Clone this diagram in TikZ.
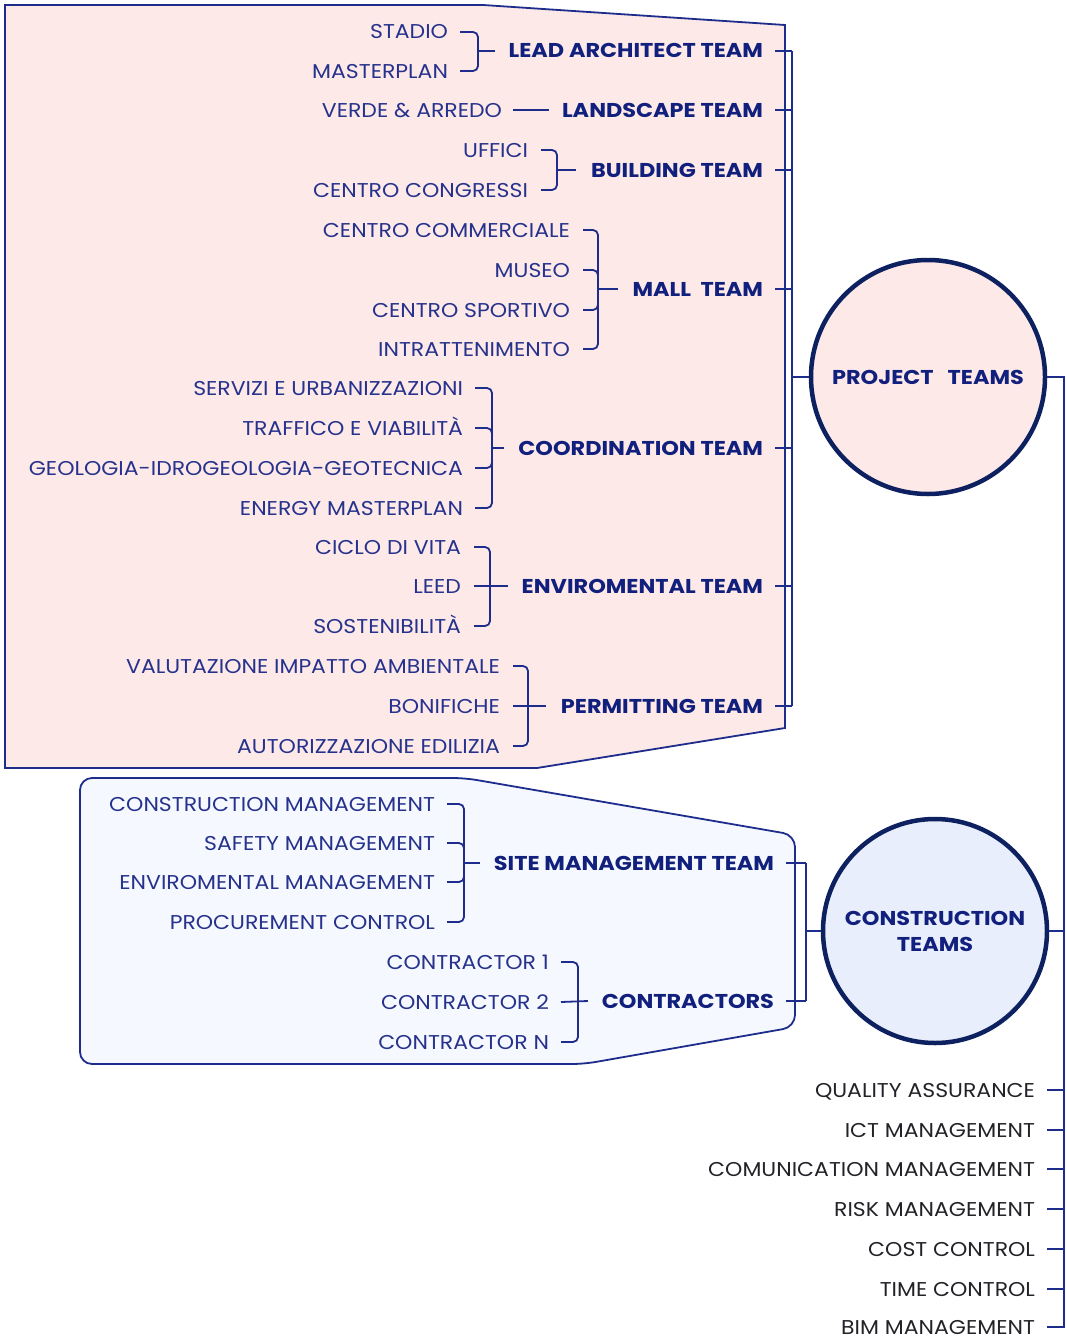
\documentclass[tikz,border=0pt]{standalone}
\usepackage{fontspec}
\setmainfont{Poppins}[FakeStretch=1.10, BoldFeatures={FakeStretch=1.12}]
\usetikzlibrary{calc}
\definecolor{pinkfill}{RGB}{252,233,232}
\definecolor{bluefill}{RGB}{245,248,255}
\definecolor{circblue}{RGB}{232,238,252}
\definecolor{navy}{RGB}{13,33,96}
\definecolor{lineblue}{RGB}{30,45,140}
\definecolor{itemblue}{RGB}{38,50,140}
\definecolor{teamblue}{RGB}{18,32,125}
\definecolor{darktext}{RGB}{34,34,40}
\tikzset{
 item/.style={anchor=east, inner sep=0pt, outer sep=0pt, text height=14pt, text depth=0pt, font=\fontsize{20}{22}\selectfont, text=itemblue},
 team/.style={item, font=\fontsize{20}{22}\selectfont\bfseries, text=teamblue},
 plain/.style={item, text=darktext},
 ln/.style={draw=lineblue, line width=1.8pt},
 br/.style={ln, rounded corners=5pt},
 panel/.style={draw=lineblue, line width=1.8pt},
 hub/.style={circle, draw=navy, line width=4.5pt, inner sep=0pt, font=\fontsize{20}{26}\selectfont\bfseries, text=teamblue, align=center},
}
\begin{document}
\begin{tikzpicture}[x=1pt,y=-1pt]
\useasboundingbox (0,0) rectangle (1066,1338);
% panels
\draw[panel, fill=pinkfill] (5,5) -- (483,5) -- (785,25) -- (785,728) -- (537,768) -- (5,768) -- cycle;
\draw[panel, fill=bluefill, rounded corners=12pt] (80,778) -- (465,778) -- (795,835) -- (795,1027) -- (584,1064) -- (80,1064) -- cycle;
% bus coordinates
\coordinate (bus) at (792,0);
\coordinate (cbus) at (806,0);
\coordinate (spine) at (1064,0);
% hubs
\node[hub, fill=pinkfill, minimum size=234pt] (pc) at (928,377) {PROJECT\hspace{14pt}TEAMS};
\node[hub, fill=circblue, minimum size=224pt] (cc) at (935,931) {CONSTRUCTION\\TEAMS};

% ---- LEAD ARCHITECT
\node[item] (stadio) at (448,32) {STADIO};
\node[item] (masterplan) at (448,71) {MASTERPLAN};
\node[team] (lead) at (763,51) {LEAD ARCHITECT TEAM};
\coordinate (v1) at ([xshift=30pt]stadio.east);
\draw[br] ([xshift=12pt]stadio.east) -| (v1 |- masterplan.east) -- ([xshift=12pt]masterplan.east);
\draw[ln] (v1 |- lead.west) -- ([xshift=-14pt]lead.west);
% ---- LANDSCAPE
\node[item] (verde) at (502,110) {VERDE \& ARREDO};
\node[team] (landscape) at (763,110) {LANDSCAPE TEAM};
\draw[ln] ([xshift=11pt]verde.east) -- ([xshift=-13pt]landscape.west);
% ---- BUILDING
\node[item] (uffici) at (528,150) {UFFICI};
\node[item] (congressi) at (528,190) {CENTRO CONGRESSI};
\node[team] (building) at (763,170) {BUILDING TEAM};
\coordinate (v3) at ([xshift=29pt]uffici.east);
\draw[br] ([xshift=13pt]uffici.east) -| (v3 |- congressi.east) -- ([xshift=13pt]congressi.east);
\draw[ln] (v3 |- building.west) -- ([xshift=-15pt]building.west);
% ---- MALL
\node[item] (commerciale) at (570,230) {CENTRO COMMERCIALE};
\node[item] (museo) at (570,270) {MUSEO};
\node[item] (sportivo) at (570,310) {CENTRO SPORTIVO};
\node[item] (intratt) at (570,349) {INTRATTENIMENTO};
\node[team] (mall) at (763,289) {MALL\ \ TEAM};
\coordinate (v4) at ([xshift=28pt]commerciale.east);
\draw[br] ([xshift=13pt]commerciale.east) -| (v4 |- intratt.east) -- ([xshift=13pt]intratt.east);
\draw[br] ([xshift=13pt]museo.east) -| ([yshift=-10pt]v4 |- museo.east);
\draw[br] ([xshift=13pt]sportivo.east) -| ([yshift=10pt]v4 |- sportivo.east);
\draw[ln] (v4 |- mall.west) -- ([xshift=-15pt]mall.west);
% ---- COORDINATION
\node[item] (servizi) at (463,388) {SERVIZI E URBANIZZAZIONI};
\node[item] (traffico) at (463,428) {TRAFFICO E VIABILITÀ};
\node[item] (geologia) at (463,468) {GEOLOGIA-IDROGEOLOGIA-GEOTECNICA};
\node[item] (energy) at (463,508) {ENERGY MASTERPLAN};
\node[team] (coord) at (763,448) {COORDINATION TEAM};
\coordinate (v5) at ([xshift=29pt]servizi.east);
\draw[br] ([xshift=12pt]servizi.east) -| (v5 |- energy.east) -- ([xshift=12pt]energy.east);
\draw[br] ([xshift=12pt]traffico.east) -| ([yshift=-10pt]v5 |- traffico.east);
\draw[br] ([xshift=12pt]geologia.east) -| ([yshift=10pt]v5 |- geologia.east);
\draw[ln] (v5 |- coord.west) -- ([xshift=-14pt]coord.west);
% ---- ENVIROMENTAL
\node[item] (ciclo) at (461,547) {CICLO DI VITA};
\node[item] (leed) at (461,586) {LEED};
\node[item] (sost) at (461,626) {SOSTENIBILITÀ};
\node[team] (envteam) at (763,586) {ENVIROMENTAL TEAM};
\coordinate (v6) at ([xshift=29pt]ciclo.east);
\draw[br] ([xshift=13pt]ciclo.east) -| (v6 |- sost.east) -- ([xshift=13pt]sost.east);
\draw[ln] ([xshift=13pt]leed.east) -- ([xshift=-14pt]envteam.west);
% ---- PERMITTING
\node[item] (via) at (500,666) {VALUTAZIONE IMPATTO AMBIENTALE};
\node[item] (bonifiche) at (500,706) {BONIFICHE};
\node[item] (autoriz) at (500,746) {AUTORIZZAZIONE EDILIZIA};
\node[team] (permit) at (763,706) {PERMITTING TEAM};
\coordinate (v7) at ([xshift=28pt]via.east);
\draw[br] ([xshift=13pt]via.east) -| (v7 |- autoriz.east) -- ([xshift=13pt]autoriz.east);
\draw[ln] ([xshift=13pt]bonifiche.east) -- ([xshift=-15pt]permit.west);
% ---- project bus
\foreach \t in {lead,landscape,building,mall,coord,envteam,permit}
  \draw[ln] ([xshift=12pt]\t.east) -- (\t.east -| bus);
\draw[ln] (lead.east -| bus) -- (permit.east -| bus);
\draw[ln] (bus |- pc.west) -- (pc.west);

% ---- SITE MANAGEMENT
\node[item] (cm) at (435,804) {CONSTRUCTION MANAGEMENT};
\node[item] (sm) at (435,843) {SAFETY MANAGEMENT};
\node[item] (em) at (435,882) {ENVIROMENTAL MANAGEMENT};
\node[item] (pcn) at (435,922) {PROCUREMENT CONTROL};
\node[team] (site) at (774,863) {SITE MANAGEMENT TEAM};
\coordinate (v8) at ([xshift=29pt]cm.east);
\draw[br] ([xshift=12pt]cm.east) -| (v8 |- pcn.east) -- ([xshift=12pt]pcn.east);
\draw[br] ([xshift=12pt]sm.east) -| ([yshift=-10pt]v8 |- sm.east);
\draw[br] ([xshift=12pt]em.east) -| ([yshift=10pt]v8 |- em.east);
\draw[ln] (v8 |- site.west) -- ([xshift=-14pt]site.west);
% ---- CONTRACTORS
\node[item] (c1) at (549,962) {CONTRACTOR 1};
\node[item] (c2) at (549,1002) {CONTRACTOR 2};
\node[item] (cn) at (549,1042) {CONTRACTOR N};
\node[team] (contr) at (774,1001) {CONTRACTORS};
\coordinate (v9) at ([xshift=29pt]c1.east);
\draw[br] ([xshift=12pt]c1.east) -| (v9 |- cn.east) -- ([xshift=12pt]cn.east);
\draw[ln] ([xshift=12pt]c2.east) -- ([xshift=-14pt]contr.west);
% ---- construction bus
\foreach \t in {site,contr}
  \draw[ln] ([xshift=12pt]\t.east) -- (\t.east -| cbus);
\draw[ln] (site.east -| cbus) -- (contr.east -| cbus);
\draw[ln] (cbus |- cc.west) -- (cc.west);

% ---- right spine and list
\node[plain] (qa) at (1035,1090) {QUALITY ASSURANCE};
\node[plain] (ict) at (1035,1130) {ICT MANAGEMENT};
\node[plain] (com) at (1035,1169) {COMUNICATION MANAGEMENT};
\node[plain] (risk) at (1035,1209) {RISK MANAGEMENT};
\node[plain] (cost) at (1035,1249) {COST CONTROL};
\node[plain] (time) at (1035,1289) {TIME CONTROL};
\node[plain] (bim) at (1035,1327) {BIM MANAGEMENT};
\draw[ln] (pc.east) -- (pc.east -| spine) -- (bim.east -| spine) -- ([xshift=12pt]bim.east);
\draw[ln] (cc.east) -- (cc.east -| spine);
\foreach \t in {qa,ict,com,risk,cost,time}
  \draw[ln] ([xshift=12pt]\t.east) -- (\t.east -| spine);
\end{tikzpicture}
\end{document}
